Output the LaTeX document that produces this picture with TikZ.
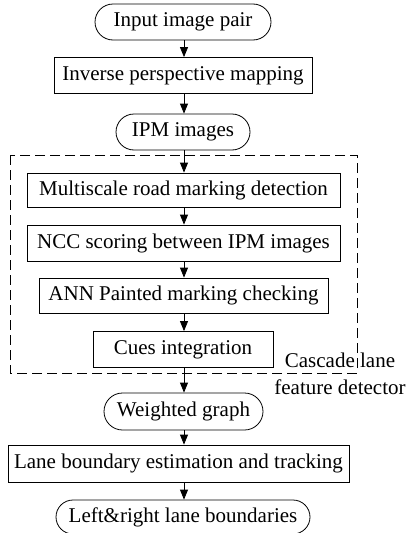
\documentclass[tikz,border=0pt]{standalone}
\usepackage{fontspec}
\setmainfont{Liberation Serif}
\usetikzlibrary{shapes.misc,arrows.meta}
\begin{document}
\begin{tikzpicture}[x=1pt,y=-1pt,
  font=\fontsize{21}{24}\selectfont,
  stepbox/.style={draw,thick,rectangle,minimum height=36pt,inner sep=2pt},
  termbox/.style={draw,thick,rounded rectangle,minimum height=36pt,inner sep=2pt},
  flow/.style={thick,-{Triangle[length=10pt,width=8pt]}}]
  \useasboundingbox (0,0) rectangle (408,533);

  \node[termbox,minimum width=180pt] (input) at (183,22) {Input image pair};
  \node[stepbox,minimum width=258pt] (ipm) at (183,75.5) {Inverse perspective mapping};
  \node[termbox,minimum width=138pt] (ipmimg) at (183,132) {IPM images};
  \node[stepbox,minimum width=313pt,minimum height=34pt] (multi) at (183.5,190) {Multiscale road marking detection};
  \node[stepbox,minimum width=313pt] (ncc) at (183.5,243) {NCC scoring between IPM images};
  \node[stepbox,minimum width=289pt,minimum height=35pt] (ann) at (183.5,295.5) {ANN Painted marking checking};
  \node[stepbox,minimum width=180pt] (cues) at (183,349.5) {Cues integration};
  \node[termbox,minimum width=163pt,minimum height=37pt] (graph) at (183.5,411.5) {Weighted graph};
  \node[stepbox,minimum width=341pt,minimum height=37pt] (track) at (178.5,463.5) {Lane boundary estimation and tracking};
  \node[termbox,minimum width=258pt,minimum height=34pt] (bound) at (183,517) {Left\&right lane boundaries};

  % cascade detector frame
  \draw[thick,dash pattern=on 10pt off 5pt] (10,155) rectangle (357,373);
  \node[align=center,inner sep=0pt] (cascade) at (340,373.5) {Cascade lane\\[3pt]feature detector};

  \foreach \a/\b in {input/ipm, ipm/ipmimg, ipmimg/multi, multi/ncc, ncc/ann, ann/cues, cues/graph, graph/track, track/bound}
    \draw[flow] (\a.south -| 184,0) -- (\b.north -| 184,0);
\end{tikzpicture}
\end{document}
